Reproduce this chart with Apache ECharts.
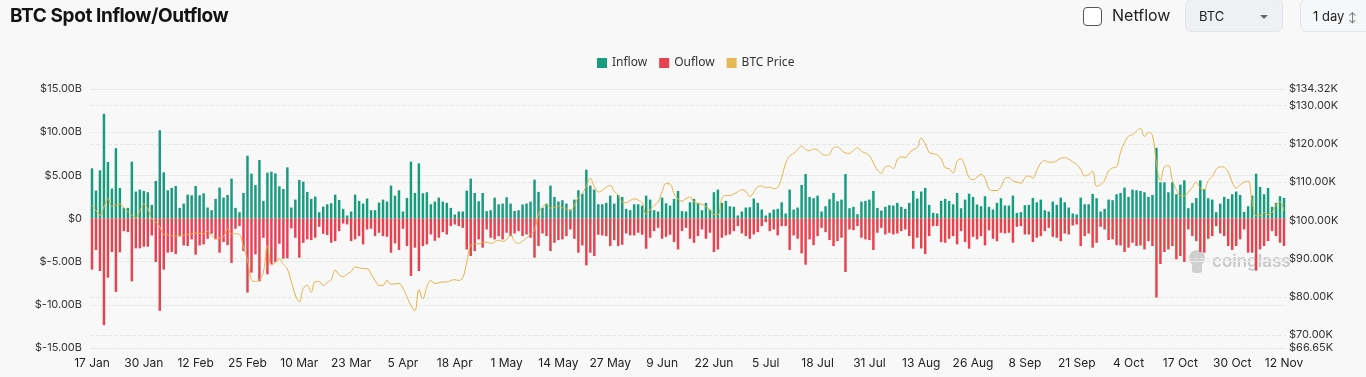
<!DOCTYPE html>
<html>
<head>
<meta charset="utf-8">
<title>BTC Spot Inflow/Outflow</title>
<script src="https://cdn.jsdelivr.net/npm/echarts@6/dist/echarts.min.js"></script>
<style>
  html, body { margin: 0; padding: 0; background: #f8f8f8; }
  body { width: 1366px; height: 377px; position: relative; overflow: hidden; font-family: Inter, "Noto Sans", sans-serif; }
  #chart { position: absolute; left: 0; top: 0; width: 1366px; height: 377px; }
  .title { position: absolute; left: 10px; top: 4px; font-size: 19px; font-weight: 700; color: #141414; letter-spacing: -0.4px; }
  .check { position: absolute; left: 1083px; top: 7px; width: 17px; height: 17px; border: 1.5px solid #555; border-radius: 4px; background: #fff; }
  .netflow { position: absolute; left: 1112px; top: 5px; font-size: 16px; color: #222; }
  .select { position: absolute; top: -1px; height: 33px; line-height: 33px; border: 1px solid #e1e4e8; border-radius: 6px; font-size: 13px; color: #222; box-sizing: border-box; }
  .sel-coin { left: 1185px; width: 98px; background: #eef0f3; padding-left: 13px; }
  .sel-coin .caret { position: absolute; right: 14px; top: 15px; width: 0; height: 0; border-left: 4px solid transparent; border-right: 4px solid transparent; border-top: 4px solid #666; }
  .sel-int { left: 1300px; width: 80px; background: #f6f7f8; padding-left: 12px; }
  .sel-int .chev { font-size: 10px; color: #666; margin-left: 4px; }
</style>
</head>
<body>
<div id="chart"></div>
<div class="title">BTC Spot Inflow/Outflow</div>
<div class="check"></div>
<div class="netflow">Netflow</div>
<div class="select sel-coin">BTC<span class="caret"></span></div>
<div class="select sel-int">1 day<span class="chev">&#8597;</span></div>
<script>
// daily values, 17 Jan -> 12 Nov, in $B (flows) and $K (price)
var startDate = '2025-01-17';

var inflow = [
  5.81, 3.23, 5.58, 12.12, 6.54, 3.46, 8.15, 3.54, 1.23, 1.23, 6.58, 3.12, 3.35, 3.19, 3.04, 1.58, 4.35, 10.23, 5.35, 3.27, 3.54, 3.77, 1.23, 1.73, 2.77, 2.69, 3.77, 2.69, 2.92, 1.27, 0.96, 2.27, 3.58, 2.42, 2.73, 4.62,
  1.23, 0.73, 2.96, 7.27, 5.19, 3.88, 6.77, 2.04, 5.31, 5.42, 5.23, 3.73, 3.42, 5.92, 1.27, 2.19, 4.46, 4.27, 3.08, 2.27, 2.54, 0.73, 1.38, 1.65, 1.77, 2.77, 2.15, 1.12, 0.35, 0.81, 2.77, 2.04, 1.73, 2.31, 0.96, 0.96, 1.85, 2.19,
  1.96, 3.81, 2.65, 3.27, 0.81, 2.38, 6.58, 2.96, 6.38, 2.92, 3.04, 1.65, 1.96, 2.42, 1.96, 1.81, 1.23, 0.46, 0.81, 0.81, 3.23, 4.62, 2.96, 2.0, 2.96, 0.85, 0.96, 2.42, 1.65, 1.73, 2.46, 1.73, 0.88, 0.96, 1.62, 1.73, 1.96, 4.5,
  3.08, 1.23, 1.73, 3.81, 2.5, 1.96, 2.12, 1.73, 1.04, 2.19, 3.27, 2.88, 5.65, 3.81, 3.35, 1.65, 1.65, 1.81, 2.65, 1.73, 2.73, 2.5, 1.12, 0.96, 1.65, 1.65, 1.5, 2.65, 2.19, 0.96, 0.81, 2.42, 1.77, 1.5, 2.27, 3.19, 0.85,
  0.81, 1.88, 2.27, 1.81, 0.96, 1.81, 1.04, 3.04, 3.35, 1.81, 2.04, 1.42, 1.35, 0.35, 0.81, 1.27, 1.31, 2.31, 1.81, 1.04, 0.35, 0.65, 1.04, 1.12, 1.88, 0.58, 3.35, 1.04, 1.27, 3.88, 5.15, 2.5, 2.35, 2.65, 0.81, 1.42, 2.23, 2.96,
  2.0, 2.19, 5.15, 1.19, 1.35, 0.5, 1.96, 2.04, 2.19, 3.19, 1.23, 0.92, 1.35, 1.54, 1.5, 1.81, 1.35, 1.12, 1.81, 3.19, 2.31, 3.12, 3.54, 1.58, 0.65, 0.58, 2.04, 2.27, 2.04, 1.65, 2.96, 1.19, 2.19, 2.88, 2.5, 1.62, 1.42,
  2.58, 1.35, 1.04, 1.81, 2.35, 1.5, 1.5, 2.65, 0.65, 0.73, 1.54, 1.58, 2.38, 1.88, 2.19, 0.96, 0.81, 1.96, 1.58, 2.42, 1.88, 1.27, 0.58, 0.46, 2.42, 1.65, 1.65, 2.85, 2.35, 0.81, 1.12, 2.19, 2.12, 2.81, 2.96, 3.58, 2.5, 3.35,
  3.27, 3.19, 3.04, 2.5, 2.73, 8.19, 4.19, 4.19, 3.04, 4.19, 2.81, 3.92, 4.42, 1.19, 1.81, 2.38, 4.42, 3.42, 2.35, 2.19, 0.73, 1.73, 2.5, 2.27, 2.81, 3.12, 2.73, 0.77, 1.42, 2.65, 5.19, 3.65, 2.81, 3.54, 1.35, 1.81, 2.58, 2.38
];

var outflow = [
  -5.92, -3.65, -6.08, -12.35, -6.85, -3.88, -8.5, -3.92, -1.46, -1.58, -7.27, -3.46, -3.46, -3.27, -3.27, -1.96, -5.04, -10.69, -5.92, -3.96, -3.88, -4.12, -2.04, -3.12, -3.19, -2.42, -4.19, -3.12, -3.0, -2.35, -1.77, -2.42, -3.96, -2.73, -3.08, -5.15,
  -1.19, -0.88, -3.77, -8.58, -6.27, -4.15, -7.27, -2.23, -6.46, -5.31, -5.04, -2.92, -4.65, -4.62, -1.15, -2.23, -4.54, -2.81, -2.42, -2.5, -2.23, -0.96, -1.77, -1.92, -2.81, -2.62, -1.46, -0.58, -0.69, -2.62, -2.42, -2.04, -3.0, -1.27, -1.19, -2.04, -1.65, -2.04,
  -2.12, -3.96, -2.88, -3.65, -1.19, -3.19, -6.65, -3.38, -6.08, -3.19, -3.0, -1.85, -2.58, -2.23, -1.58, -1.85, -0.88, -0.69, -0.88, -1.08, -3.58, -4.35, -3.77, -2.42, -3.38, -1.27, -2.23, -2.42, -2.04, -2.42, -1.65, -2.04, -1.73, -1.46, -2.04, -1.85, -2.23, -4.54,
  -3.19, -1.73, -2.04, -3.77, -2.81, -2.5, -2.42, -2.04, -1.27, -2.35, -3.96, -3.12, -5.42, -3.96, -4.35, -1.88, -1.96, -2.04, -3.19, -2.5, -3.19, -3.04, -1.73, -1.96, -1.96, -1.65, -1.88, -3.5, -2.23, -1.46, -1.08, -2.35, -2.12, -1.88, -2.73, -3.58, -1.46,
  -1.08, -2.35, -2.81, -2.04, -1.27, -2.35, -1.65, -3.88, -3.58, -2.23, -1.96, -1.85, -1.46, -0.88, -1.73, -2.04, -2.35, -1.85, -1.58, -0.88, -0.42, -1.46, -1.27, -1.96, -0.88, -0.88, -3.65, -1.96, -2.35, -4.04, -5.35, -2.42, -3.08, -2.04, -1.08, -1.58, -2.5, -3.19,
  -2.62, -2.23, -6.19, -1.27, -1.35, -0.88, -2.23, -2.42, -2.5, -3.65, -1.65, -1.08, -1.85, -1.65, -1.85, -1.73, -1.46, -1.27, -2.04, -3.5, -2.23, -3.46, -4.12, -2.04, -0.88, -0.88, -2.73, -2.81, -2.35, -2.04, -3.0, -1.46, -2.73, -3.5, -2.12, -2.42, -2.04,
  -3.12, -1.38, -2.35, -2.62, -1.65, -1.73, -1.65, -2.81, -0.96, -0.88, -1.85, -1.85, -2.73, -2.23, -2.04, -1.46, -1.08, -2.12, -2.23, -2.62, -1.73, -1.85, -0.81, -0.69, -3.19, -2.04, -1.73, -3.38, -2.81, -0.96, -1.27, -2.5, -2.42, -3.08, -3.12, -3.88, -3.38, -2.81,
  -3.19, -3.12, -3.58, -2.62, -3.19, -9.15, -5.27, -3.88, -3.58, -3.19, -4.73, -4.35, -5.04, -1.27, -2.04, -2.62, -3.88, -3.96, -2.35, -2.04, -0.88, -1.73, -2.04, -3.19, -3.65, -3.19, -2.42, -1.27, -3.96, -3.96, -6.04, -3.58, -3.19, -2.62, -1.46, -2.04, -2.81, -3.19
];

var btcPrice = [
  103.9, 102.6, 101.3, 103.5, 105.7, 103.7, 104.0, 104.3, 103.2, 102.3, 101.3, 100.7, 102.5, 104.2, 103.0, 100.4, 99.6, 98.3, 96.3, 96.2, 96.0, 95.9, 95.9, 96.1, 96.3, 96.5, 96.7, 96.6, 96.5, 97.1, 96.1, 95.2, 95.4, 95.7, 97.8, 96.5,
  96.5, 96.3, 93.0, 89.6, 84.5, 84.0, 84.5, 86.5, 93.5, 88.3, 89.0, 90.0, 88.5, 87.3, 84.0, 80.5, 78.7, 82.2, 83.0, 81.2, 84.0, 84.0, 83.0, 83.8, 84.5, 87.0, 85.8, 85.3, 86.0, 86.6, 87.8, 87.6, 87.4, 87.4, 86.0, 84.3, 83.0, 83.0,
  84.3, 83.3, 83.4, 83.5, 82.3, 80.0, 77.8, 76.4, 81.9, 79.5, 82.6, 84.3, 83.5, 83.7, 83.9, 83.9, 84.3, 84.5, 84.3, 85.0, 89.0, 93.5, 93.8, 93.9, 94.2, 94.3, 94.0, 94.4, 94.8, 94.5, 95.0, 96.3, 94.5, 94.0, 94.6, 95.4, 96.3, 97.5,
  101.7, 103.5, 104.1, 103.2, 103.4, 103.7, 103.3, 103.0, 102.6, 104.0, 106.0, 107.0, 109.0, 111.0, 108.8, 107.4, 107.8, 108.7, 109.1, 107.6, 106.5, 104.8, 104.6, 105.2, 105.6, 105.3, 104.6, 101.6, 102.8, 103.9, 104.8, 107.5, 109.6, 109.5, 107.0, 105.6, 105.0,
  105.7, 106.1, 104.8, 104.4, 104.2, 103.6, 102.8, 101.5, 101.5, 105.7, 106.5, 106.5, 106.9, 107.5, 108.0, 107.6, 106.2, 107.4, 108.8, 109.0, 108.5, 108.7, 108.3, 108.6, 111.2, 114.9, 116.8, 117.5, 118.5, 119.4, 118.5, 118.2, 118.6, 118.4, 117.4, 117.0, 117.3, 119.0,
  119.2, 118.3, 117.6, 117.5, 118.3, 119.0, 118.0, 117.6, 116.9, 115.0, 113.1, 112.3, 114.0, 114.2, 113.5, 115.8, 116.6, 116.4, 117.6, 118.5, 119.0, 121.5, 120.0, 117.8, 117.4, 117.1, 116.0, 113.8, 113.5, 112.4, 115.4, 116.1, 114.0, 111.2, 110.6, 111.3, 112.0,
  111.0, 108.2, 107.8, 107.8, 108.8, 110.9, 111.2, 110.3, 110.0, 109.7, 111.1, 111.6, 111.0, 113.0, 115.0, 115.6, 115.2, 115.2, 115.6, 116.2, 116.4, 116.0, 115.3, 114.6, 113.3, 111.6, 112.0, 112.8, 108.9, 109.3, 110.5, 112.9, 113.7, 114.0, 117.8, 120.3, 122.0, 122.4,
  123.3, 124.0, 121.9, 123.0, 122.2, 115.0, 110.4, 114.0, 114.3, 110.5, 108.0, 106.4, 106.4, 107.4, 108.6, 110.0, 108.4, 108.1, 110.4, 111.4, 113.3, 114.0, 113.8, 112.6, 110.0, 108.4, 109.3, 110.0, 110.2, 105.0, 101.2, 101.2, 102.0, 101.5, 102.1, 104.0, 104.8, 102.4
];

var flowAxis = { min: -15, max: 15, interval: 5 };
var priceAxis = { min: 66.65, max: 134.32 };

var monthNames = ['Jan', 'Feb', 'Mar', 'Apr', 'May', 'Jun', 'Jul', 'Aug', 'Sep', 'Oct', 'Nov', 'Dec'];
var dates = [];
var t0 = new Date(startDate + 'T00:00:00Z').getTime();
for (var i = 0; i < inflow.length; i++) {
  var d = new Date(t0 + i * 86400000);
  dates.push(d.getUTCDate() + ' ' + monthNames[d.getUTCMonth()]);
}

var chart = echarts.init(document.getElementById('chart'), null, { renderer: 'canvas' });

var option = {
  animation: false,
  textStyle: { fontFamily: 'Inter, "Noto Sans", sans-serif' },
  legend: {
    top: 52,
    left: 592,
    icon: 'rect',
    itemWidth: 10,
    itemHeight: 10,
    itemGap: 12,
    textStyle: { color: '#333', fontSize: 12, fontFamily: '"Noto Sans", sans-serif' },
    data: ['Inflow', 'Ouflow', 'BTC Price']
  },
  grid: { left: 90, right: 80, top: 89, bottom: 29 },
  xAxis: {
    type: 'category',
    data: dates,
    boundaryGap: true,
    axisLine: { lineStyle: { color: '#e4e4e4' } },
    axisTick: { show: false },
    axisLabel: {
      color: '#222',
      fontSize: 12,
      margin: 9,
      interval: 12,
      showMinLabel: true,
      showMaxLabel: true
    },
    splitLine: { show: false }
  },
  yAxis: [
    {
      type: 'value',
      min: flowAxis.min,
      max: flowAxis.max,
      interval: flowAxis.interval,
      axisLine: { show: false },
      axisTick: { show: false },
      axisLabel: {
        color: '#333',
        fontSize: 11,
        margin: 8,
        formatter: function (v) {
          if (v === 0) return '$0';
          return '$' + v.toFixed(2) + 'B';
        }
      },
      splitLine: { lineStyle: { color: '#ececec', width: 1 } }
    },
    {
      type: 'value',
      min: priceAxis.min,
      max: priceAxis.max,
      splitNumber: 7,
      position: 'right',
      axisLine: { show: false },
      axisTick: { show: false },
      axisLabel: {
        color: '#333',
        fontSize: 11,
        margin: 3,
        formatter: function (v) { return '$' + v.toFixed(2) + 'K'; }
      },
      splitLine: { lineStyle: { color: '#e6e6e6', type: 'dashed', width: 1 } }
    }
  ],
  series: [
    {
      name: 'Inflow',
      type: 'bar',
      data: inflow,
      barWidth: '62%',
      barGap: '-100%',
      itemStyle: { color: '#179c7e' }
    },
    {
      name: 'Ouflow',
      type: 'bar',
      data: outflow,
      barWidth: '62%',
      barGap: '-100%',
      itemStyle: { color: '#e8424f' }
    },
    {
      name: 'BTC Price',
      type: 'line',
      yAxisIndex: 1,
      data: btcPrice,
      smooth: 0.4,
      showSymbol: false,
      symbol: 'none',
      lineStyle: { color: '#e3b346', width: 1 },
      itemStyle: { color: '#e7b952' },
      z: 5
    }
  ],
  graphic: [
    {
      type: 'group',
      left: 1189,
      top: 250,
      silent: true,
      children: [
        { type: 'circle', shape: { cx: 11, cy: 9, r: 8 }, style: { fill: '#cfcfcf' } },
        { type: 'rect', shape: { x: 6, y: 14, width: 10, height: 10, r: 3 }, style: { fill: '#cfcfcf' } },
        {
          type: 'text',
          x: 26,
          y: 4,
          style: { text: 'coinglass', fill: '#c9c9c9', font: '600 17px Inter, sans-serif' }
        }
      ]
    }
  ]
};

chart.setOption(option);
</script>
</body>
</html>
